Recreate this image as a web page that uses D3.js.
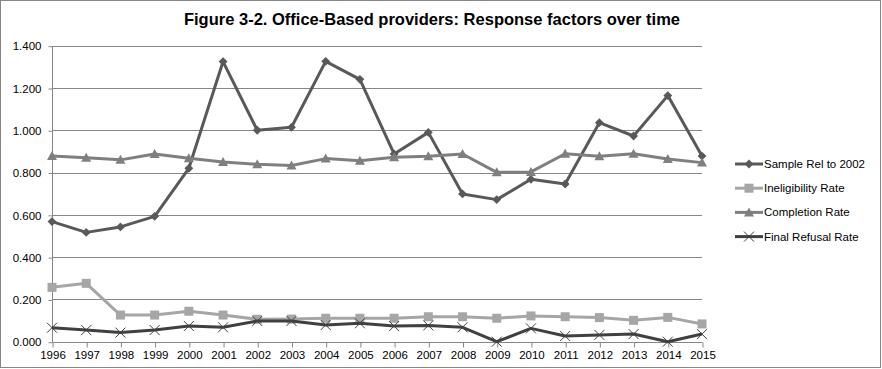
<!DOCTYPE html>
<html>
<head>
<meta charset="utf-8">
<script src="https://cdn.jsdelivr.net/npm/d3@7"></script>
<style>
  body { margin: 0; background: #fff; }
  svg { display: block; font-family: "Liberation Sans", Arial, sans-serif; }
</style>
</head>
<body>
<div id="chart"></div>
<script>
// data
var years = ["1996","1997","1998","1999","2000","2001","2002","2003","2004","2005",
             "2006","2007","2008","2009","2010","2011","2012","2013","2014","2015"];
var sampleRel = [0.568,0.517,0.543,0.593,0.820,1.325,1.000,1.014,1.326,1.241,
                 0.888,0.990,0.699,0.672,0.768,0.746,1.036,0.973,1.164,0.878];
var ineligibility = [0.257,0.276,0.126,0.126,0.144,0.126,0.106,0.107,0.111,0.111,
                     0.111,0.118,0.118,0.111,0.122,0.118,0.114,0.101,0.115,0.084];
var completion = [0.878,0.870,0.860,0.888,0.868,0.850,0.839,0.833,0.866,0.856,
                  0.872,0.877,0.888,0.801,0.803,0.889,0.877,0.889,0.864,0.847];
var finalRefusal = [0.066,0.055,0.043,0.055,0.074,0.068,0.098,0.098,0.079,0.087,
                    0.074,0.077,0.068,0.000,0.063,0.027,0.032,0.036,0.000,0.036];
var yTicks = [0, 0.2, 0.4, 0.6, 0.8, 1.0, 1.2, 1.4];

var series = [
  {name: "Sample Rel to 2002", values: sampleRel, color: "#595959", marker: "diamond"},
  {name: "Ineligibility Rate", values: ineligibility, color: "#a6a6a6", marker: "square"},
  {name: "Completion Rate", values: completion, color: "#7f7f7f", marker: "triangle"},
  {name: "Final Refusal Rate", values: finalRefusal, color: "#404040", marker: "x"}
];

var W = 882, H = 369;
var svg = d3.select("#chart").append("svg")
    .attr("width", W).attr("height", H);

// outer frame
svg.append("rect")
    .attr("x", 0.5).attr("y", 0.5)
    .attr("width", W - 2).attr("height", H - 2)
    .attr("fill", "#fff").attr("stroke", "#868686");

svg.append("text")
    .attr("x", 432).attr("y", 25)
    .attr("text-anchor", "middle")
    .attr("font-size", "16.5px").attr("font-weight", "bold")
    .attr("fill", "#000")
    .text("Figure 3-2. Office-Based providers: Response factors over time");

var x = d3.scalePoint().domain(years).range([52, 702]);
var y = d3.scaleLinear().domain([0, 1.4]).range([341.7, 45.7]);

// gridlines
svg.append("g").selectAll("line")
    .data(yTicks.slice(1))
    .enter().append("line")
    .attr("x1", 52).attr("x2", 702)
    .attr("y1", function(d) { return Math.round(y(d)) + 0.5; })
    .attr("y2", function(d) { return Math.round(y(d)) + 0.5; })
    .attr("stroke", "#868686").attr("stroke-width", 1);

var yAxis = svg.append("g")
    .attr("transform", "translate(52.5,0.5)")
    .call(d3.axisLeft(y).tickValues(yTicks).tickSize(4).tickPadding(7)
        .tickFormat(d3.format(".3f")));
yAxis.selectAll("text").attr("font-size", "11.5px").attr("fill", "#000")
    .attr("font-family", "Liberation Sans, Arial, sans-serif");
yAxis.selectAll("line, path").attr("stroke", "#868686");
yAxis.select(".domain").attr("d", "M0," + y(1.4) + "V" + y(0));

var xAxis = svg.append("g")
    .attr("transform", "translate(0.5," + (Math.round(y(0)) + 0.5) + ")")
    .call(d3.axisBottom(x).tickSize(5).tickPadding(3));
xAxis.selectAll("text").attr("font-size", "11.5px").attr("fill", "#000")
    .attr("font-family", "Liberation Sans, Arial, sans-serif");
xAxis.selectAll("line, path").attr("stroke", "#868686");
xAxis.select(".domain").attr("d", "M52,0H702");

var line = d3.line()
    .x(function(d, i) { return x(years[i]); })
    .y(function(d) { return y(d); });

function drawMarker(g, type, color) {
  if (type === "diamond") {
    g.append("path").attr("d", d3.symbol().type(d3.symbolDiamond2).size(50)())
      .attr("fill", color);
  } else if (type === "square") {
    g.append("rect").attr("x", -4.5).attr("y", -4.5).attr("width", 9).attr("height", 9)
      .attr("fill", color);
  } else if (type === "triangle") {
    g.append("path").attr("d", "M0,-5L5,4L-5,4Z").attr("fill", color);
  } else {
    g.append("path").attr("d", "M-5,-5L5,5M-5,5L5,-5")
      .attr("stroke", color).attr("stroke-width", 1).attr("fill", "none");
  }
}

series.forEach(function(s) {
  svg.append("path")
    .datum(s.values)
    .attr("fill", "none")
    .attr("stroke", s.color)
    .attr("stroke-width", 3)
    .attr("stroke-linejoin", "round")
    .attr("d", line);
  svg.append("g").selectAll("g")
    .data(s.values)
    .enter().append("g")
    .attr("transform", function(d, i) { return "translate(" + x(years[i]) + "," + y(d) + ")"; })
    .each(function() { drawMarker(d3.select(this), s.marker, s.color); });
});

// legend
var legend = svg.append("g").selectAll("g")
    .data(series)
    .enter().append("g")
    .attr("transform", function(d, i) { return "translate(735," + (164 + i * 24.2) + ")"; });
legend.append("line")
    .attr("x1", 0).attr("x2", 28)
    .attr("stroke", function(d) { return d.color; })
    .attr("stroke-width", 3);
legend.each(function(d) {
  var g = d3.select(this).append("g").attr("transform", "translate(14,0)");
  drawMarker(g, d.marker, d.color);
});
legend.append("text")
    .attr("x", 29).attr("y", 4)
    .attr("font-size", "11.5px").attr("fill", "#000")
    .attr("font-family", "Liberation Sans, Arial, sans-serif")
    .text(function(d) { return d.name; });
</script>
</body>
</html>
